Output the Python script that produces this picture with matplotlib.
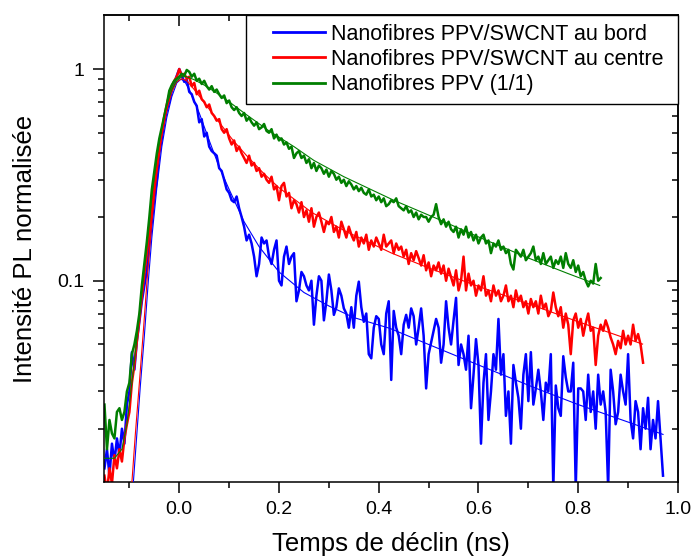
import numpy as np
import matplotlib
matplotlib.use("Agg")
import matplotlib.pyplot as plt
from matplotlib.lines import Line2D
from matplotlib.legend_handler import HandlerLine2D
from matplotlib.ticker import FixedLocator, MultipleLocator, NullFormatter, FixedFormatter

plt.rcParams['font.family'] = ['Liberation Sans', 'DejaVu Sans']

# =============================
# DATA
# =============================
T0 = -0.15     # first time channel (ns)
DT = 0.005     # channel width (ns)

labels = ["Nanofibres PPV/SWCNT au bord",
          "Nanofibres PPV/SWCNT au centre",
          "Nanofibres PPV (1/1)"]
colors = ["#0000ff", "#ff0000", "#007f00"]

bord = [
    0.013, 0.016, 0.012, 0.017, 0.014, 0.018, 0.015, 0.020, 0.017, 0.026,
    0.030, 0.046, 0.038, 0.052, 0.064, 0.080, 0.095, 0.112, 0.148, 0.190,
    0.245, 0.300, 0.400, 0.470, 0.560, 0.640, 0.700, 0.790, 0.860, 0.930,
    1.000, 0.930, 0.870, 0.890, 0.780, 0.760, 0.700, 0.670, 0.560, 0.580,
    0.480, 0.500, 0.430, 0.410, 0.400, 0.390, 0.340, 0.330, 0.300, 0.270,
    0.260, 0.240, 0.235, 0.250, 0.220, 0.200, 0.180, 0.155, 0.165, 0.150,
    0.130, 0.105, 0.120, 0.160, 0.150, 0.155, 0.130, 0.120, 0.140, 0.155,
    0.100, 0.095, 0.130, 0.145, 0.120, 0.130, 0.135, 0.080, 0.090, 0.110,
    0.105, 0.095, 0.090, 0.100, 0.062, 0.085, 0.105, 0.100, 0.065, 0.080,
    0.107, 0.090, 0.069, 0.075, 0.092, 0.085, 0.074, 0.070, 0.060, 0.075,
    0.060, 0.085, 0.099, 0.075, 0.064, 0.070, 0.045, 0.043, 0.060, 0.068,
    0.066, 0.050, 0.045, 0.070, 0.080, 0.034, 0.072, 0.060, 0.055, 0.045,
    0.062, 0.069, 0.060, 0.074, 0.068, 0.050, 0.060, 0.074, 0.055, 0.031,
    0.045, 0.051, 0.058, 0.066, 0.060, 0.041, 0.050, 0.080, 0.060, 0.050,
    0.065, 0.083, 0.040, 0.050, 0.045, 0.038, 0.055, 0.025, 0.036, 0.053,
    0.040, 0.017, 0.033, 0.045, 0.022, 0.030, 0.045, 0.038, 0.066, 0.036,
    0.045, 0.023, 0.030, 0.017, 0.040, 0.033, 0.028, 0.020, 0.036, 0.045,
    0.027, 0.046, 0.026, 0.031, 0.038, 0.030, 0.022, 0.033, 0.030, 0.045,
    0.0105, 0.032, 0.025, 0.023, 0.044, 0.035, 0.030, 0.030, 0.041, 0.0105,
    0.031, 0.031, 0.030, 0.022, 0.036, 0.024, 0.030, 0.020, 0.036, 0.026,
    0.030, 0.024, 0.0105, 0.038, 0.030, 0.021, 0.024, 0.036, 0.030, 0.026,
    0.045, 0.022, 0.018, 0.027, 0.024, 0.016, 0.025, 0.020, 0.028, 0.016,
    0.022, 0.018, 0.027, 0.018, 0.012,
]

centre = [
    0.012, 0.010, 0.013, 0.011, 0.015, 0.013, 0.016, 0.014, 0.018, 0.021,
    0.024, 0.033, 0.040, 0.052, 0.066, 0.085, 0.108, 0.135, 0.170, 0.215,
    0.280, 0.350, 0.430, 0.510, 0.600, 0.680, 0.760, 0.830, 0.880, 0.920,
    1.000, 0.930, 0.950, 0.900, 0.920, 0.830, 0.860, 0.760, 0.790, 0.720,
    0.700, 0.660, 0.680, 0.620, 0.600, 0.570, 0.580, 0.520, 0.500, 0.520,
    0.470, 0.440, 0.460, 0.410, 0.430, 0.400, 0.380, 0.360, 0.390, 0.350,
    0.360, 0.330, 0.340, 0.310, 0.320, 0.300, 0.290, 0.310, 0.270, 0.280,
    0.240, 0.280, 0.290, 0.250, 0.260, 0.220, 0.240, 0.230, 0.210, 0.235,
    0.200, 0.215, 0.190, 0.220, 0.180, 0.200, 0.210, 0.190, 0.170, 0.190,
    0.185, 0.200, 0.170, 0.180, 0.160, 0.190, 0.175, 0.160, 0.180, 0.165,
    0.155, 0.170, 0.145, 0.160, 0.150, 0.165, 0.140, 0.155, 0.145, 0.160,
    0.150, 0.140, 0.165, 0.145, 0.150, 0.155, 0.135, 0.150, 0.140, 0.145,
    0.130, 0.140, 0.120, 0.135, 0.125, 0.138, 0.128, 0.118, 0.132, 0.112,
    0.122, 0.105, 0.118, 0.112, 0.122, 0.108, 0.118, 0.100, 0.114, 0.104,
    0.095, 0.112, 0.090, 0.100, 0.130, 0.090, 0.108, 0.095, 0.100, 0.085,
    0.095, 0.090, 0.105, 0.085, 0.090, 0.080, 0.095, 0.085, 0.090, 0.080,
    0.085, 0.095, 0.080, 0.085, 0.075, 0.090, 0.080, 0.085, 0.075, 0.080,
    0.070, 0.082, 0.075, 0.080, 0.070, 0.085, 0.074, 0.078, 0.068, 0.072,
    0.088, 0.075, 0.068, 0.075, 0.060, 0.070, 0.062, 0.045, 0.065, 0.070,
    0.060, 0.066, 0.055, 0.063, 0.070, 0.058, 0.060, 0.040, 0.055, 0.062,
    0.058, 0.065, 0.060, 0.054, 0.050, 0.045, 0.052, 0.048, 0.058, 0.050,
    0.055, 0.050, 0.062, 0.052, 0.056, 0.050, 0.041,
]

ppv = [
    0.026, 0.016, 0.022, 0.019, 0.018, 0.024, 0.025, 0.022, 0.024, 0.030,
    0.033, 0.045, 0.050, 0.058, 0.070, 0.095, 0.120, 0.153, 0.200, 0.270,
    0.330, 0.400, 0.470, 0.530, 0.600, 0.680, 0.790, 0.840, 0.880, 0.900,
    0.920, 0.950, 0.930, 0.990, 0.970, 0.920, 0.950, 0.880, 0.900, 0.850,
    0.880, 0.830, 0.800, 0.830, 0.780, 0.800, 0.760, 0.730, 0.750, 0.690,
    0.710, 0.660, 0.640, 0.660, 0.620, 0.600, 0.620, 0.570, 0.590, 0.560,
    0.540, 0.560, 0.520, 0.530, 0.550, 0.510, 0.500, 0.520, 0.470, 0.490,
    0.460, 0.470, 0.440, 0.450, 0.420, 0.430, 0.380, 0.400, 0.410, 0.380,
    0.390, 0.360, 0.375, 0.340, 0.360, 0.330, 0.350, 0.340, 0.320, 0.335,
    0.310, 0.330, 0.320, 0.300, 0.310, 0.290, 0.300, 0.280, 0.295, 0.285,
    0.270, 0.280, 0.265, 0.275, 0.260, 0.255, 0.270, 0.250, 0.255, 0.240,
    0.250, 0.235, 0.245, 0.225, 0.230, 0.240, 0.235, 0.245, 0.225, 0.220,
    0.215, 0.225, 0.210, 0.215, 0.200, 0.210, 0.195, 0.205, 0.200, 0.200,
    0.190, 0.200, 0.205, 0.230, 0.200, 0.185, 0.195, 0.180, 0.190, 0.175,
    0.170, 0.180, 0.160, 0.175, 0.165, 0.180, 0.160, 0.170, 0.155, 0.165,
    0.150, 0.160, 0.165, 0.150, 0.155, 0.135, 0.150, 0.145, 0.155, 0.140,
    0.145, 0.135, 0.140, 0.120, 0.113, 0.140, 0.135, 0.130, 0.140, 0.125,
    0.130, 0.135, 0.145, 0.125, 0.130, 0.120, 0.135, 0.120, 0.125, 0.130,
    0.115, 0.125, 0.120, 0.130, 0.115, 0.135, 0.120, 0.115, 0.125, 0.110,
    0.118, 0.105, 0.110, 0.100, 0.094, 0.100, 0.097, 0.120, 0.100, 0.103,
]

# fitted curves (thin lines)
fit_bord_t = [-0.092, -0.085, -0.078, -0.070, -0.062, -0.055, -0.045, -0.035,
              -0.025, -0.015, -0.005, 0.003, 0.010, 0.020, 0.040, 0.060,
              0.080, 0.100, 0.130, 0.160, 0.200, 0.250, 0.300, 0.350,
              0.422, 0.500, 0.600, 0.716, 0.800, 0.900, 0.970]
fit_bord_y = [0.0112, 0.019, 0.032, 0.055, 0.100, 0.160, 0.275, 0.430,
              0.590, 0.740, 0.860, 0.895, 0.880, 0.800, 0.620, 0.460,
              0.345, 0.270, 0.190, 0.145, 0.110, 0.088, 0.076, 0.067,
              0.0596, 0.050, 0.040, 0.031, 0.026, 0.0215, 0.0188]

fit_centre_t = [-0.095, -0.088, -0.080, -0.072, -0.064, -0.055, -0.045, -0.035,
                -0.025, -0.015, -0.005, 0.005, 0.015, 0.030, 0.055, 0.080,
                0.108, 0.135, 0.170, 0.200, 0.266, 0.332, 0.426, 0.500,
                0.569, 0.600, 0.716, 0.800, 0.929]
fit_centre_y = [0.0112, 0.019, 0.033, 0.058, 0.105, 0.190, 0.320, 0.480,
                0.640, 0.780, 0.870, 0.900, 0.880, 0.800, 0.670, 0.560,
                0.460, 0.390, 0.320, 0.275, 0.210, 0.172, 0.135, 0.115,
                0.100, 0.094, 0.0755, 0.064, 0.0502]

fit_ppv_t = [-0.150, -0.130, -0.115, -0.105, -0.095, -0.085, -0.075, -0.065,
             -0.055, -0.045, -0.035, -0.025, -0.015, -0.005, 0.005, 0.015,
             0.030, 0.050, 0.075, 0.100, 0.130, 0.180, 0.230, 0.270,
             0.330, 0.430, 0.520, 0.600, 0.700, 0.780, 0.843]
fit_ppv_y = [0.0145, 0.0145, 0.016, 0.021, 0.033, 0.053, 0.090, 0.150,
             0.250, 0.380, 0.530, 0.680, 0.800, 0.880, 0.920, 0.920,
             0.890, 0.840, 0.770, 0.700, 0.620, 0.510, 0.430, 0.370,
             0.310, 0.240, 0.195, 0.161, 0.128, 0.108, 0.095]

series = [bord, centre, ppv]
fits = [(fit_bord_t, fit_bord_y), (fit_centre_t, fit_centre_y), (fit_ppv_t, fit_ppv_y)]

# =============================
# FIGURE
# =============================
fig = plt.figure(figsize=(6.95, 5.57), dpi=100)
ax = fig.add_axes([0.1496, 0.1346, 0.8259, 0.8385])

handles = []
for y, c in zip(series, colors):
    t = T0 + DT * np.arange(len(y))
    line, = ax.plot(t, y, color=c, lw=1.8, zorder=2)
    handles.append(line)

for (ft, fy), c in zip(fits, colors):
    ax.plot(ft, fy, color=c, lw=0.8, zorder=3)

ax.set_yscale('log')
ax.set_xlim(-0.151, 1.0)
ax.set_ylim(0.0112, 1.80)

ax.xaxis.set_major_locator(MultipleLocator(0.2))
ax.xaxis.set_minor_locator(MultipleLocator(0.1))
ax.xaxis.set_major_formatter(plt.FuncFormatter(lambda v, p: f"{v:.1f}"))

ax.yaxis.set_major_locator(FixedLocator([0.1, 1.0]))
ax.yaxis.set_major_formatter(FixedFormatter(["0.1", "1"]))
minor_y = [k * 10.0 ** e for e in (-2, -1, 0) for k in range(2, 10)]
ax.yaxis.set_minor_locator(FixedLocator(minor_y))
ax.yaxis.set_minor_formatter(NullFormatter())

ax.tick_params(which='major', direction='out', length=8, width=1.1,
               labelsize=14, pad=6)
ax.tick_params(which='minor', direction='out', length=4.5, width=1.1)
for s in ax.spines.values():
    s.set_linewidth(1.1)

# inward ticks on top and right
top = ax.secondary_xaxis('top')
top.xaxis.set_major_locator(MultipleLocator(0.2))
top.xaxis.set_minor_locator(MultipleLocator(0.1))
top.tick_params(which='major', direction='in', length=8, width=1.1, labeltop=False)
top.tick_params(which='minor', direction='in', length=4.5, width=1.1)
top.spines['top'].set_linewidth(1.1)

right = ax.secondary_yaxis('right')
right.yaxis.set_major_locator(FixedLocator([0.1, 1.0]))
right.yaxis.set_minor_locator(FixedLocator(minor_y))
right.yaxis.set_minor_formatter(NullFormatter())
right.tick_params(which='major', direction='in', length=8, width=1.1, labelright=False)
right.tick_params(which='minor', direction='in', length=4.5, width=1.1)
right.spines['right'].set_linewidth(1.1)

ax.set_xlabel("Temps de déclin (ns)", fontsize=18.5, labelpad=10)
ax.set_ylabel("Intensité PL normalisée", fontsize=18.5, labelpad=15)

# trailing space gives the wider right margin of the original legend box
leg = ax.legend(handles, [lab + " " for lab in labels],
                loc='upper right', bbox_to_anchor=(1.0, 1.0), fontsize=15.5,
                frameon=True, fancybox=False, edgecolor='black', framealpha=1,
                borderaxespad=0, borderpad=0.4, labelspacing=0.2,
                handlelength=3.3, handletextpad=0.25,
                handler_map={Line2D: HandlerLine2D(xpad=0.85)})
leg.get_frame().set_linewidth(1.0)
for h in leg.get_lines():
    h.set_linewidth(2.0)

fig.savefig("out.png", dpi=100)
